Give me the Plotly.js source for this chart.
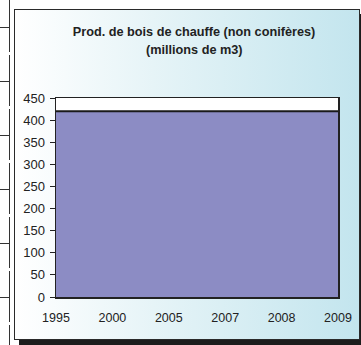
<!DOCTYPE html>
<html>
<head>
<meta charset="utf-8">
<script src="https://cdn.plot.ly/plotly-3.0.1.min.js"></script>
<style>
  html, body { margin: 0; padding: 0; background: #ffffff; }
  #wrap { position: relative; width: 361px; height: 345px; overflow: hidden; background: #ffffff; }
  #frame { position: absolute; left: 14px; top: 9px; width: 344px; height: 329px;
           border: 1px solid #2a2a2a;
           background: linear-gradient(to right, #ffffff 0%, #e6f4f7 40%, #c3e5ee 100%);
           box-shadow: 5px 5px 0 #1c1c1c; }
  .vseg { position: absolute; left: 9px; width: 1px; background: #333; }
  .hseg { position: absolute; left: 0px; width: 10px; height: 1px; background: #333; }
  #chart { position: absolute; left: 0; top: 0; width: 361px; height: 345px; }
</style>
</head>
<body>
<div id="wrap">
  <div id="frame"></div>
  <div class="vseg" style="top:0px;height:52px"></div>
  <div class="vseg" style="top:55px;height:51px"></div>
  <div class="vseg" style="top:109px;height:51px"></div>
  <div class="vseg" style="top:163px;height:51px"></div>
  <div class="vseg" style="top:217px;height:51px"></div>
  <div class="vseg" style="top:271px;height:51px"></div>
  <div class="vseg" style="top:325px;height:20px"></div>
  <div class="hseg" style="top:27px"></div>
  <div class="hseg" style="top:81px"></div>
  <div class="hseg" style="top:135px"></div>
  <div class="hseg" style="top:189px"></div>
  <div class="hseg" style="top:243px"></div>
  <div class="hseg" style="top:297px"></div>
  <div id="chart"></div>
</div>
<script>
// Data
var years = ['1995', '2000', '2005', '2007', '2008', '2009'];
var production = [420, 420, 420, 420, 420, 420];
var titleLine1 = 'Prod. de bois de chauffe (non conifères)';
var titleLine2 = '(millions de m3)';

var FONT = 'Liberation Sans, Arial, sans-serif';

var trace = {
  type: 'scatter',
  mode: 'lines',
  x: years,
  y: production,
  fill: 'tozeroy',
  fillcolor: '#8c8cc4',
  line: { color: '#1a1a1a', width: 2 },
  hoverinfo: 'x+y',
  showlegend: false
};

var layout = {
  width: 361,
  height: 345,
  margin: { l: 56, r: 23, t: 98, b: 48, pad: 0 },
  paper_bgcolor: 'rgba(0,0,0,0)',
  plot_bgcolor: '#ffffff',
  font: { family: FONT, size: 12, color: '#222222' },
  title: {
    text: '<b>' + titleLine1 + '</b>',
    font: { family: FONT, size: 12.7, color: '#222222' },
    xref: 'container', x: 194 / 361, xanchor: 'center',
    yref: 'container', y: 1 - 31.5 / 345, yanchor: 'middle'
  },
  annotations: [{
    text: '<b>' + titleLine2 + '</b>',
    xref: 'paper', x: (194.5 - 56) / 282, xanchor: 'center',
    yref: 'paper', y: (296.7 - 50.8) / 198.4, yanchor: 'middle',
    showarrow: false,
    font: { family: FONT, size: 12.7, color: '#222222' }
  }],
  xaxis: {
    type: 'category',
    range: [0, years.length - 1],
    showgrid: false,
    zeroline: false,
    showline: true,
    mirror: true,
    linecolor: '#222222',
    linewidth: 1.5,
    ticks: '',
    ticklabelstandoff: 8,
    tickfont: { family: FONT, size: 12.5, color: '#222222' },
    fixedrange: true
  },
  yaxis: {
    range: [0, 450],
    dtick: 50,
    tick0: 0,
    showgrid: false,
    zeroline: false,
    showline: true,
    mirror: true,
    linecolor: '#222222',
    linewidth: 1.5,
    ticks: 'outside',
    ticklen: 5,
    tickwidth: 1,
    tickcolor: '#222222',
    ticklabelstandoff: 2,
    tickfont: { family: FONT, size: 13, color: '#222222' },
    fixedrange: true
  }
};

Plotly.newPlot('chart', [trace], layout, { displayModeBar: false, staticPlot: true });
</script>
</body>
</html>
